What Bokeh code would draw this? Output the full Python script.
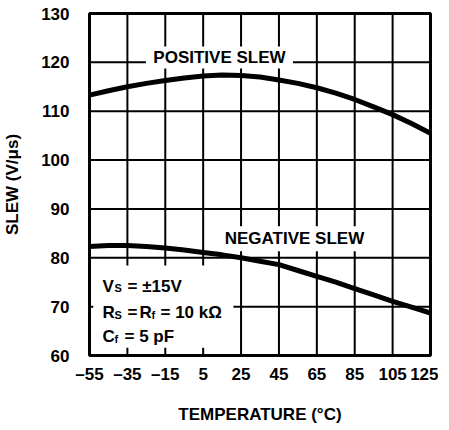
from bokeh.plotting import figure
from bokeh.models import Label, FixedTicker, Range1d
from bokeh.embed import file_html
from bokeh.resources import INLINE

# ---- data ----
temp_ticks = [-55, -35, -15, 5, 25, 45, 65, 85, 105, 125]
slew_ticks = [60, 70, 80, 90, 100, 110, 120, 130]

temps = [-55, -45, -35, -25, -15, -5, 5, 15, 25, 35, 45, 55, 65, 75, 85, 95, 105, 115, 125]
positive_slew = [113.3, 114.2, 115.0, 115.7, 116.3, 116.8, 117.2, 117.4, 117.3, 117.0,
                 116.4, 115.7, 114.8, 113.7, 112.4, 110.9, 109.3, 107.5, 105.5]
negative_slew = [82.3, 82.5, 82.5, 82.3, 82.0, 81.6, 81.1, 80.6, 80.0, 79.3,
                 78.6, 77.4, 76.2, 75.0, 73.7, 72.4, 71.1, 69.9, 68.7]

FONT = "Liberation Sans"
GRID_W = 2  # px

p = figure(frame_width=341, frame_height=342,
           x_range=Range1d(temp_ticks[0], temp_ticks[-1]),
           y_range=Range1d(slew_ticks[0], slew_ticks[-1]),
           output_backend="svg", toolbar_location=None,
           min_border_left=84, min_border_right=8,
           min_border_top=13, min_border_bottom=59)

p.background_fill_color = "white"
p.border_fill_color = "white"
p.outline_line_color = "black"
p.outline_line_width = 3
p.outline_line_alpha = 1
p.xgrid.visible = False
p.ygrid.visible = False

p.xaxis.ticker = FixedTicker(ticks=temp_ticks)
p.yaxis.ticker = FixedTicker(ticks=slew_ticks)
p.xaxis.major_label_overrides = {t: ("\u2013" + str(abs(t)) if t < 0 else str(t)) for t in temp_ticks}

for ax in (p.xaxis, p.yaxis):
    ax.axis_line_color = None
    ax.major_tick_line_color = None
    ax.minor_tick_line_color = None
    ax.major_tick_out = 0
    ax.major_tick_in = 0
    ax.minor_tick_out = 0
    ax.minor_tick_in = 0
    ax.major_label_text_font = FONT
    ax.major_label_text_font_style = "bold"
    ax.major_label_text_font_size = "17px"
    ax.major_label_text_color = "black"
    ax.axis_label_text_font = FONT
    ax.axis_label_text_font_style = "bold"
    ax.axis_label_text_font_size = "17px"
    ax.axis_label_text_color = "black"

p.xaxis.axis_label = "TEMPERATURE (\u00b0C)"
p.yaxis.axis_label = "SLEW (V/\u03bcs)"
p.xaxis.major_label_standoff = 9
p.xaxis.axis_label_standoff = 18
p.yaxis.major_label_standoff = 20
p.yaxis.axis_label_standoff = 16

# grid drawn as thin filled bars from the tick arrays; the conditions box
# (lower left) is left free of grid, with short stubs at its edges
lo_t, hi_t = temp_ticks[0], temp_ticks[-1]
lo_s, hi_s = slew_ticks[0], slew_ticks[-1]
box_right = 21
box_top = slew_ticks[2]
stub_y, stub_x = 1.6, 2.0

vx, vy, vh = [], [], []
hx, hy, hw = [], [], []

def vpiece(t, y0, y1):
    vx.append(t); vy.append((y0 + y1) / 2); vh.append(y1 - y0)

def hpiece(s, x0, x1):
    hy.append(s); hx.append((x0 + x1) / 2); hw.append(x1 - x0)

for t in temp_ticks:
    if lo_t < t < box_right:
        vpiece(t, box_top - stub_y, hi_s)
        vpiece(t, lo_s, lo_s + stub_y)
    else:
        vpiece(t, lo_s, hi_s)
for s in slew_ticks:
    if lo_s < s < box_top:
        hpiece(s, box_right, hi_t)
        hpiece(s, lo_t, lo_t + stub_x)
    else:
        hpiece(s, lo_t, hi_t)

p.rect(x=vx, y=vy, width=GRID_W, height=vh, width_units="screen", height_units="data",
       fill_color="black", line_color=None)
p.rect(x=hx, y=hy, width=hw, height=GRID_W, width_units="data", height_units="screen",
       fill_color="black", line_color=None)

# white patches behind the curve labels
p.rect(x=[13.6, 53.2], y=[121.0, 83.9], width=[147, 150], height=[22, 25],
       width_units="screen", height_units="screen", fill_color="white", line_color=None)

p.line(temps, positive_slew, line_color="black", line_width=5, line_join="round")
p.line(temps, negative_slew, line_color="black", line_width=5, line_join="round")

def lab(x, y, text, size="17px", xo=0, yo=0, align="left", baseline="alphabetic"):
    p.add_layout(Label(x=x, y=y, text=text, x_offset=xo, y_offset=yo,
                       text_font=FONT, text_font_style="bold", text_font_size=size,
                       text_color="black", text_align=align, text_baseline=baseline))

lab(13.6, 121.0, "POSITIVE SLEW", align="center", baseline="middle")
lab(53.2, 83.9, "NEGATIVE SLEW", align="center", baseline="middle")

x0 = temp_ticks[0]
# line 1
lab(x0, 74.18, "V", xo=13)
lab(x0, 74.18, "S", size="11px", xo=25, yo=-2)
lab(x0, 74.18, "= \u00b115V", xo=38)
# line 2
lab(x0, 68.75, "R", xo=13)
lab(x0, 68.75, "S", size="11px", xo=25, yo=-2)
lab(x0, 68.75, "=", xo=38)
lab(x0, 68.75, "R", xo=50)
lab(x0, 68.75, "f", size="11px", xo=62, yo=-2)
lab(x0, 68.75, "= 10 k\u03a9", xo=71)
# line 3
lab(x0, 63.86, "C", xo=13)
lab(x0, 63.86, "f", size="11px", xo=25, yo=-2)
lab(x0, 63.86, "= 5 pF", xo=35)

open("out.html", "w").write(file_html(p, INLINE))
